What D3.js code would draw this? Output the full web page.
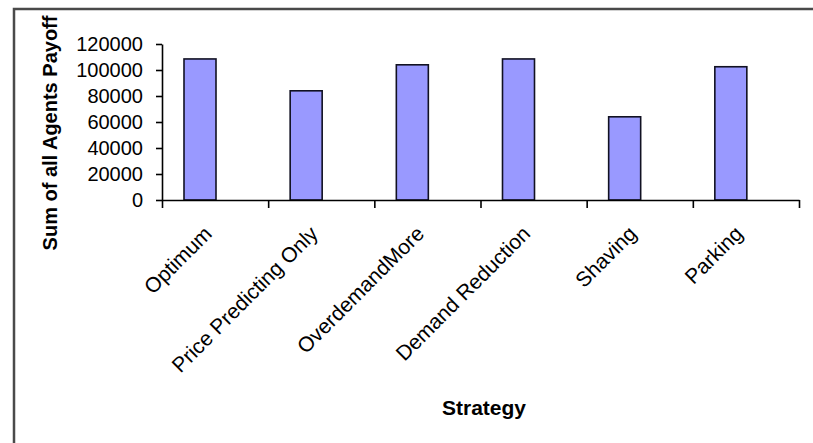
<!DOCTYPE html>
<html>
<head>
<meta charset="utf-8">
<script src="https://cdn.jsdelivr.net/npm/d3@7"></script>
<style>
  html, body { margin: 0; padding: 0; background: #fff; }
  svg { display: block; }
  text { font-family: "Liberation Sans", Arial, sans-serif; fill: #000; }
</style>
</head>
<body>
<script>
// Strategy comparison: total payoff summed over all agents
const categories = ["Optimum", "Price Predicting Only", "OverdemandMore", "Demand Reduction", "Shaving", "Parking"];
const payoffs = [108500, 84000, 104000, 108500, 64000, 102500];
const yTicks = [0, 20000, 40000, 60000, 80000, 100000, 120000];
const yTitle = "Sum of all Agents Payoff";
const xTitle = "Strategy";

const W = 813, H = 443;
const plot = { left: 162, right: 799, top: 44, bottom: 200 };

const svg = d3.select("body").append("svg")
  .attr("width", W).attr("height", H);

// chart area frame (only top and left edges fall inside the window)
svg.append("rect")
  .attr("x", 14).attr("y", 9)
  .attr("width", 1000).attr("height", 1000)
  .attr("fill", "#fff")
  .attr("stroke", "#4a4a4a")
  .attr("stroke-width", 2.5);

const x = d3.scaleBand().domain(categories).range([plot.left, plot.right]);
const xEdge = d3.scaleLinear().domain([0, categories.length]).range([plot.left, plot.right]);
const y = d3.scaleLinear().domain([0, 120000]).range([plot.bottom, plot.top]);

const barOffset = 22, barWidth = 32;

// bars
svg.append("g").selectAll("rect")
  .data(payoffs)
  .join("rect")
  .attr("x", (d, i) => x(categories[i]) + barOffset)
  .attr("y", d => y(d))
  .attr("width", barWidth)
  .attr("height", d => y(0) - y(d))
  .attr("fill", "#9999ff")
  .attr("stroke", "#111122")
  .attr("stroke-width", 1.6);

// y axis
const yAxis = svg.append("g")
  .attr("transform", `translate(${plot.left},0)`)
  .call(d3.axisLeft(y).tickValues(yTicks).tickSize(6).tickSizeOuter(0)
    .tickPadding(13).tickFormat(d3.format("d")));
yAxis.select(".domain").attr("stroke", "#000").attr("stroke-width", 1.6);
yAxis.selectAll(".tick line").attr("stroke", "#000").attr("stroke-width", 1.6);
yAxis.selectAll(".tick text")
  .attr("font-size", 20)
  .attr("font-family", "Liberation Sans, Arial, sans-serif")
  .attr("fill", "#000");

// x axis with tick marks between categories
const xAxis = svg.append("g")
  .attr("transform", `translate(0,${plot.bottom})`)
  .call(d3.axisBottom(xEdge).tickValues(d3.range(categories.length + 1))
    .tickSize(8).tickSizeOuter(0).tickFormat(""));
xAxis.select(".domain").attr("stroke", "#000").attr("stroke-width", 1.6);
xAxis.selectAll(".tick line").attr("stroke", "#000").attr("stroke-width", 1.6);

// rotated category labels
svg.append("g").selectAll("text")
  .data(categories)
  .join("text")
  .attr("transform", d => `translate(${x(d) + x.bandwidth() / 2 - 2},235) rotate(-45)`)
  .attr("text-anchor", "end")
  .attr("font-size", 21)
  .text(d => d);

// axis titles
svg.append("text")
  .attr("transform", `translate(57,133) rotate(-90)`)
  .attr("text-anchor", "middle")
  .attr("font-size", 20)
  .attr("font-weight", "bold")
  .text(yTitle);

svg.append("text")
  .attr("x", 484).attr("y", 415)
  .attr("text-anchor", "middle")
  .attr("font-size", 21)
  .attr("font-weight", "bold")
  .text(xTitle);
</script>
</body>
</html>
